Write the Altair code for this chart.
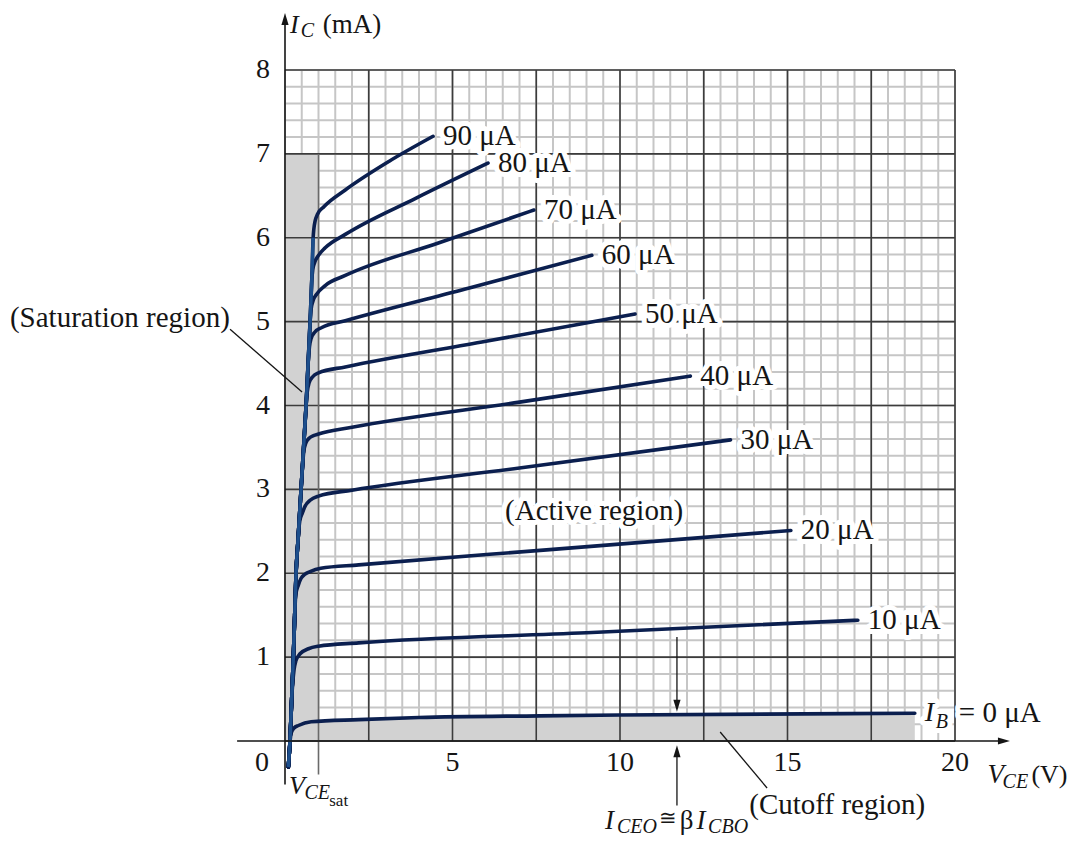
import altair as alt
import pandas as pd

# ------------------------------------------------------------------ data
IB_UA = [0, 10, 20, 30, 40, 50, 60, 70, 80, 90]

# shared steep rise near the origin (V_CE in V, I_C in mA)
TRUNK_V = [0.10, 0.15, 0.20, 0.25, 0.29, 0.33, 0.39, 0.45, 0.51, 0.57, 0.63, 0.69, 0.75, 0.80, 0.84]
TRUNK_I = [-0.31, 0.00, 0.50, 1.00, 1.50, 2.00, 2.40, 2.80, 3.20, 3.60, 4.00, 4.50, 5.00, 5.50, 6.00]

# each curve after it leaves the shared rise
B0_V = [0.19, 0.27, 0.40, 0.78, 2.2, 4.0, 7.6, 10.0, 18.8]
B0_I = [0.10, 0.155, 0.185, 0.23, 0.255, 0.28, 0.30, 0.31, 0.33]
B10_V = [0.27, 0.32, 0.45, 0.70, 1.0, 2.2, 9.0, 17.1]
B10_I = [0.85, 0.95, 1.04, 1.10, 1.13, 1.17, 1.29, 1.44]
B20_V = [0.32, 0.40, 0.48, 0.60, 0.75, 1.07, 2.2, 8.0, 15.1]
B20_I = [1.74, 1.86, 1.94, 1.99, 2.02, 2.06, 2.10, 2.285, 2.51]
B30_V = [0.44, 0.52, 0.60, 0.75, 1.0, 2.0, 7.0, 13.3]
B30_I = [2.62, 2.72, 2.80, 2.87, 2.92, 2.99, 3.255, 3.59]
B40_V = [0.56, 0.62, 0.72, 0.85, 1.0, 2.0, 7.0, 12.1]
B40_I = [3.45, 3.55, 3.61, 3.64, 3.66, 3.74, 4.04, 4.35]
B50_V = [0.66, 0.72, 0.82, 1.0, 1.8, 6.0, 10.45]
B50_I = [4.15, 4.27, 4.34, 4.39, 4.46, 4.766, 5.09]
B60_V = [0.73, 0.78, 0.88, 1.1, 1.8, 5.5, 9.16]
B60_I = [4.70, 4.80, 4.87, 4.93, 5.01, 5.40, 5.79]
B70_V = [0.78, 0.83, 0.95, 1.2, 1.8, 4.6, 7.43]
B70_I = [5.15, 5.24, 5.33, 5.43, 5.55, 5.94, 6.33]
B80_V = [0.83, 0.88, 1.0, 1.2, 1.8, 3.9, 6.06]
B80_I = [5.62, 5.70, 5.79, 5.88, 6.04, 6.47, 6.89]
B90_V = [0.86, 0.90, 0.97, 1.16, 1.8, 3.1, 4.42]
B90_I = [6.10, 6.20, 6.28, 6.37, 6.57, 6.91, 7.21]

BRANCH_V = [B0_V, B10_V, B20_V, B30_V, B40_V, B50_V, B60_V, B70_V, B80_V, B90_V]
BRANCH_I = [B0_I, B10_I, B20_I, B30_I, B40_I, B50_I, B60_I, B70_I, B80_I, B90_I]

X_TICKS = [0, 5, 10, 15, 20]
Y_TICKS = [1, 2, 3, 4, 5, 6, 7, 8]
V_MAX, I_MAX = 20, 8
SAT_V, SAT_I = 1, 7          # shaded saturation strip
ICEO_V = 11.7                # I_CEO arrows

# ------------------------------------------------------------------ layout
FONT = "Liberation Serif"
W, H = 1063, 828
PX_V, PX_MA = 33.5, 83.875
XMIN = -(285 - 8) / PX_V
XMAX = XMIN + W / PX_V
YMAX = (741 - 8) / PX_MA
YMIN = YMAX - H / PX_MA
XS = alt.Scale(domain=[XMIN, XMAX], nice=False, zero=False)
YS = alt.Scale(domain=[YMIN, YMAX], nice=False, zero=False)

CURVE_C = "#0b1f4f"
TRUNK_C = "#1d4f8c"
MINOR_C = "#c6c6c6"
MAJOR_C = "#3c3c3c"
SHADE_C = "#d2d2d2"
INK = "#151515"
LBL = 29      # region / curve labels
TCK = 28      # tick labels


def ex(f):
    return alt.X(f"{f}:Q", scale=XS, axis=None)


def ey(f):
    return alt.Y(f"{f}:Q", scale=YS, axis=None)


def vrules(vals, i0, i1, color, width):
    df = pd.DataFrame({"v": vals, "i0": i0, "i1": i1})
    return alt.Chart(df).mark_rule(color=color, strokeWidth=width).encode(
        x=ex("v"), y=ey("i0"), y2="i1")


def hrules(vals, v0, v1, color, width):
    df = pd.DataFrame({"i": vals, "v0": v0, "v1": v1})
    return alt.Chart(df).mark_rule(color=color, strokeWidth=width).encode(
        y=ey("i"), x=ex("v0"), x2="v1")


def segs(rows, color=INK, width=1.4):
    df = pd.DataFrame(rows, columns=["v", "i", "v2", "i2"])
    return alt.Chart(df).mark_rule(color=color, strokeWidth=width).encode(
        x=ex("v"), y=ey("i"), x2="v2", y2="i2")


def head(v, i, path):
    df = pd.DataFrame({"v": [v], "i": [i]})
    return alt.Chart(df).mark_point(shape=path, filled=True, size=144, color=INK,
                                    opacity=1, strokeWidth=0).encode(x=ex("v"), y=ey("i"))


def texts(rows, size, italic=False, halo=False, align="left", dx=0):
    df = pd.DataFrame(rows, columns=["t", "v", "i"])
    base = alt.Chart(df).encode(x=ex("v"), y=ey("i"), text="t:N")
    style = dict(font=FONT, fontSize=size, align=align, baseline="middle", dx=dx)
    if italic:
        style["fontStyle"] = "italic"
    out = []
    if halo:
        out.append(base.mark_text(color="white", stroke="white", strokeWidth=10,
                                  strokeJoin="round", **style))
    out.append(base.mark_text(color=INK, **style))
    return out


# ------------------------------------------------------------------ grid
minor_x = [k * 0.5 for k in range(int(V_MAX / 0.5) + 1)]
minor_y = [round(k * 0.2, 2) for k in range(int(I_MAX / 0.2) + 1)]
major_x = [k * 2.5 for k in range(int(V_MAX / 2.5) + 1)]
major_y = list(range(I_MAX + 1))

layers = [
    vrules(minor_x, 0, I_MAX, MINOR_C, 2.0),
    hrules(minor_y, 0, V_MAX, MINOR_C, 2.0),
]

# shaded regions
sat = pd.DataFrame({"v": [0], "v2": [SAT_V], "i": [0], "i2": [SAT_I]})
layers.append(alt.Chart(sat).mark_rect(color=SHADE_C).encode(
    x=ex("v"), x2="v2", y=ey("i"), y2="i2"))
cut = pd.DataFrame({"v": B0_V, "i": B0_I})
cut = cut[cut["v"] >= 0.78]
layers.append(alt.Chart(cut).mark_area(color=SHADE_C, interpolate="monotone").encode(
    x=ex("v"), y=ey("i"), y2=alt.datum(0)))

layers += [
    vrules(major_x[1:], 0, I_MAX, MAJOR_C, 1.6),
    hrules(major_y, 0, V_MAX, MAJOR_C, 1.6),
    vrules([SAT_V], -0.4, SAT_I, "#6a6a6a", 1.6),
]

# ------------------------------------------------------------------ curves
rows = []
for ib, bv, bi in zip(IB_UA, BRANCH_V, BRANCH_I):
    for v, i in zip(TRUNK_V, TRUNK_I):
        if i < bi[0] and v < bv[0]:
            rows.append((ib, v, i))
    for v, i in zip(bv, bi):
        rows.append((ib, v, i))
curves = pd.DataFrame(rows, columns=["ib", "v", "i"])
layers.append(alt.Chart(curves).mark_line(
    color=CURVE_C, strokeWidth=3.6, interpolate="monotone", strokeCap="round").encode(
    x=ex("v"), y=ey("i"), detail="ib:N", order="v:Q"))
trunk = pd.DataFrame({"v": TRUNK_V, "i": TRUNK_I})
layers.append(alt.Chart(trunk).mark_line(
    color=TRUNK_C, strokeWidth=3.4, interpolate="monotone").encode(x=ex("v"), y=ey("i")))

# ------------------------------------------------------------------ axes
layers += [
    segs([(-1.43, 0, 21.45, 0), (0, -0.52, 0, 8.55)], width=1.6),
    head(21.64, 0, "M0,0 L-2,-0.6 L-2,0.6 Z"),
    head(0, 8.68, "M0,0 L-0.6,2 L0.6,2 Z"),
]
layers += texts([(str(t), t, -0.26) for t in X_TICKS[1:]] + [("0", -0.69, -0.26)], TCK,
                align="center")
layers += texts([(str(t), -0.66, t) for t in Y_TICKS], TCK, align="center")

# axis titles
layers += texts([("I", 0.15, 8.54)], 26, italic=True)
layers += texts([("C", 0.47, 8.46)], 20, italic=True)
layers += texts([("(mA)", 1.13, 8.54)], 27)
layers += texts([("V", 20.97, -0.40)], 27, italic=True)
layers += texts([("CE", 21.42, -0.49)], 20, italic=True)
layers += texts([("(V)", 22.28, -0.40)], 26)

# V_CEsat
layers += texts([("V", 0.12, -0.54)], 26, italic=True)
layers += texts([("CE", 0.58, -0.62)], 20, italic=True)
layers += texts([("sat", 1.32, -0.71)], 17)

# ------------------------------------------------------------------ labels
ends = [(f"{ib} μA", bv[-1], bi[-1]) for ib, bv, bi in zip(IB_UA, BRANCH_V, BRANCH_I) if ib > 0]
layers += texts(ends, LBL, halo=True, dx=10)
layers += texts([("I", B0_V[-1], B0_I[-1])], 28, italic=True, halo=True, dx=10)
layers += texts([("B", B0_V[-1], B0_I[-1] - 0.1)], 20, italic=True, halo=True, dx=21)
layers += texts([("= 0 μA", B0_V[-1], B0_I[-1])], LBL, halo=True, dx=44)

layers += texts([("(Active region)", 6.57, 2.74)], LBL, halo=True)
layers += texts([("(Saturation region)", -8.21, 5.04)], LBL)
layers += texts([("(Cutoff region)", 13.86, -0.76)], LBL)
layers.append(segs([(-1.64, 4.91, 0.51, 4.16), (12.99, 0.107, 14.39, -0.56)], width=1.3))

# I_CEO arrows and text
layers += [
    segs([(ICEO_V, 1.24, ICEO_V, 0.45), (ICEO_V, -0.15, ICEO_V, -0.77)], width=1.3),
    head(ICEO_V, 0.35, "M0,0 L-0.6,-2 L0.6,-2 Z"),
    head(ICEO_V, -0.05, "M0,0 L-0.6,2 L0.6,2 Z"),
]
layers += texts([("I", 9.55, -0.95), ("I", 12.28, -0.95)], 27, italic=True)
layers += texts([("CEO", 9.91, -1.02), ("CBO", 12.63, -1.02)], 20, italic=True)
layers += texts([("≅", 11.17, -0.93)], 21)
layers += texts([("β", 11.78, -0.95)], 27)

chart = alt.layer(*layers).properties(
    width=W, height=H, padding=0,
    autosize=alt.AutoSizeParams(type="none"),
).configure_view(stroke=None)

chart.save("out.html", embed_options={"renderer": "svg", "actions": False})
